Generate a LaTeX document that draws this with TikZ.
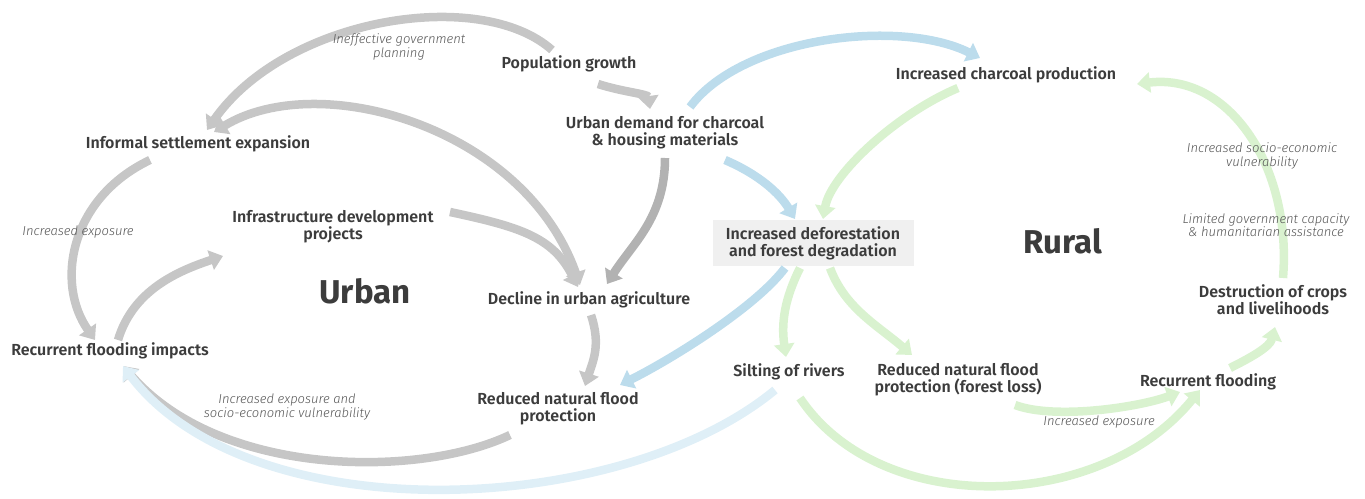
\documentclass[tikz,border=0pt]{standalone}
\usepackage{fontspec}
\setmainfont{Fira Sans}
\newfontfamily\vekony{Fira Sans Light}
\newfontfamily\felkover{Fira Sans SemiBold}
\usetikzlibrary{arrows.meta,calc}
\definecolor{szoveg}{HTML}{3C3C3C}
\definecolor{megjszin}{HTML}{555555}
\definecolor{szurkeszin}{HTML}{C6C6C6}
\definecolor{sotetszin}{HTML}{B2B2B2}
\definecolor{kekszin}{HTML}{BCDCEC}
\definecolor{vkekszin}{HTML}{DFEFF7}
\definecolor{zoldszin}{HTML}{D9F2CF}
\definecolor{dobozszin}{HTML}{F0F0F0}
\tikzset{
  hegy/.tip={Triangle[length=13pt,width=20pt]},
  cim/.style={font=\felkover\fontsize{16}{17}\selectfont,text=szoveg,align=center,inner sep=0pt},
  megj/.style={font=\vekony\itshape\fontsize{13}{13.5}\selectfont,text=megjszin,align=center,inner sep=0pt},
  nagy/.style={font=\bfseries\fontsize{33}{36}\selectfont,text=szoveg},
  doboz/.style={cim,fill=dobozszin,minimum width=201pt,minimum height=46pt},
  nyil/.style={line width=8.5pt,-hegy},
  szurke/.style={nyil,draw=szurkeszin},
  sotet/.style={nyil,draw=sotetszin},
  kek/.style={nyil,draw=kekszin},
  vkek/.style={nyil,draw=vkekszin},
  zold/.style={nyil,draw=zoldszin},
}
\begin{document}
\begin{tikzpicture}[x=1pt,y=1pt]
  \useasboundingbox (0,0) rectangle (1365,498);
  % urban side
  \node[cim] (pop) at (569,434) {Population growth};
  \node[cim] (igeny) at (665,365) {Urban demand for charcoal\\\& housing materials};
  \node[cim] (telep) at (198,354) {Informal settlement expansion};
  \node[cim] (infra) at (333,271) {Infrastructure development\\projects};
  \node[cim] (mezo) at (589,198) {Decline in urban agriculture};
  \node[cim] (arviz) at (110,147) {Recurrent flooding impacts};
  \node[cim] (ved) at (558,89) {Reduced natural flood\\protection};
  \node[nagy] (varos) at (365,207) {Urban};
  % rural side
  \node[doboz] (erdo) at (813,255) {Increased deforestation\\and forest degradation};
  \node[cim] (szen) at (1006,423) {Increased charcoal production};
  \node[cim] (iszap) at (789,126) {Silting of rivers};
  \node[cim] (erdoved) at (958,118) {Reduced natural flood\\protection (forest loss)};
  \node[cim] (arviz2) at (1208,116) {Recurrent flooding};
  \node[cim] (pusz) at (1273,198) {Destruction of crops\\and livelihoods};
  \node[nagy] (videk) at (1063,257) {Rural};

  % gray loops
  \draw[szurke] ($(pop)+(-17,14)$) .. controls +(-72,64) and +(78,112) .. ($(telep)+(9,14)$);
  \draw[szurke] ($(pop)+(29,-20)$) .. controls +(25,-8) and +(-2,15) .. ($(igeny)+(-15,24)$);
  \draw[szurke,hegy-hegy] ($(telep)+(16,12)$) .. controls +(106,64) and +(-55,157) .. ($(mezo)+(-9,15)$);
  \draw[szurke] ($(telep)+(-48,-16)$) .. controls +(-80,-38) and +(-40,57) .. ($(arviz)+(-15,11)$);
  \draw[szurke] ($(arviz)+(8,11)$) .. controls +(15,50) and +(-45,-15) .. ($(infra)+(-110,-29)$);
  \draw[szurke] ($(infra)+(117,15)$) .. controls +(70,-15) and +(-25,50) .. ($(mezo)+(-11,13)$);
  \draw[sotet] ($(igeny)+(0,-25)$) .. controls +(0,-60) and +(25,40) .. ($(mezo)+(18,16)$);
  \draw[szurke] ($(mezo)+(2,-15)$) .. controls +(10,-30) and +(8,25) .. ($(ved)+(27,23)$);
  \draw[szurke] ($(ved)+(-48,-26)$) .. controls +(-90,-43) and +(97,-112) .. ($(arviz)+(13,-15)$);

  % blue links between the two sides
  \draw[vkek] ($(iszap)+(-14,-18)$) .. controls +(-155,-128) and +(127,-167) .. ($(arviz)+(13,-15)$);
  \draw[kek] ($(igeny)+(25,26)$) .. controls +(52,70) and +(-80,40) .. ($(szen)+(-26,17)$);
  \draw[kek] ($(igeny)+(60,-27)$) .. controls +(35,-15) and +(-15,25) .. ($(erdo)+(-18,24)$);
  \draw[kek] ($(erdo)+(-28,-25)$) .. controls +(-30,-40) and +(50,25) .. ($(ved)+(62,24)$);

  % green loops
  \draw[zold] ($(szen)+(-48,-13)$) .. controls +(-60,-25) and +(8,45) .. ($(erdo)+(10,24)$);
  \draw[zold] ($(erdo)+(-13,-25)$) .. controls +(-15,-30) and +(-5,35) .. ($(iszap)+(-3,15)$);
  \draw[zold] ($(erdo)+(17,-25)$) .. controls +(15,-40) and +(-35,30) .. ($(erdoved)+(-46,25)$);
  \draw[zold] ($(iszap)+(11,-26)$) .. controls +(80,-120) and +(-100,-123) .. ($(arviz2)+(-8,-8)$);
  \draw[zold] ($(erdoved)+(57,-25)$) .. controls +(40,-15) and +(-40,-15) .. ($(arviz2)+(-28,-10)$);
  \draw[zold] ($(arviz2)+(22,14)$) .. controls +(20,10) and +(-5,-20) .. ($(pusz)+(2,-27)$);
  \draw[zold] ($(pusz)+(10,22)$) .. controls +(9,110) and +(93,11) .. ($(szen)+(131,-9)$);

  % notes on the links
  \node[megj] (m1) at (399,451) {Ineffective government\\planning};
  \node[megj] (m2) at (78,266) {Increased exposure};
  \node[megj] (m3) at (287,91) {Increased exposure and\\socio-economic vulnerability};
  \node[megj] (m4) at (1262,342) {Increased socio-economic\\vulnerability};
  \node[megj] (m5) at (1266,273) {Limited government capacity\\\& humanitarian assistance};
  \node[megj] (m6) at (1099,76) {Increased exposure};
\end{tikzpicture}
\end{document}
